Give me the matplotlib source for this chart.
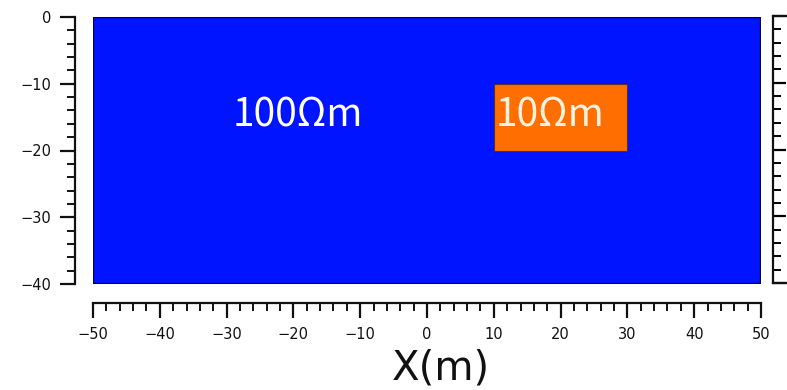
import matplotlib
matplotlib.use("Agg")
import matplotlib.pyplot as plt
from matplotlib.patches import Rectangle
from matplotlib.ticker import MultipleLocator

# model extent (m) and resistivity values
x_range = [-50, 50]
depth_range = [-40, 0]
block_x = [10, 30]
block_depth = [-20, -10]
background_rho = 100
block_rho = 10
x_ticks = [-50, -40, -30, -20, -10, 0, 10, 20, 30, 40, 50]
y_ticks = [0, -10, -20, -30, -40]

label_font = ["Noto Sans CJK JP", "DejaVu Sans"]

fig = plt.figure(figsize=(7.87, 3.90), dpi=100)
W, H = 787, 390
ax = fig.add_axes([93 / W, 1 - 284 / H, (761 - 93) / W, (284 - 17) / H])

# background half-space
ax.add_patch(Rectangle((x_range[0], depth_range[0]), x_range[1] - x_range[0],
                       depth_range[1] - depth_range[0],
                       facecolor="#0014ff", edgecolor="#000033", lw=1.6, zorder=1))
# conductive block
ax.add_patch(Rectangle((block_x[0], block_depth[0]), block_x[1] - block_x[0],
                       block_depth[1] - block_depth[0],
                       facecolor="#ff6e00", edgecolor="#5a3020", lw=0.8, zorder=2))

ax.text(-19.4, -14.8, f"{background_rho}Ωm", color="white", fontsize=28,
        family=label_font, ha="center", va="center", zorder=3)
ax.text(18.4, -14.8, f"{block_rho}Ωm", color="#fff2e0", fontsize=28,
        family=label_font, ha="center", va="center", zorder=3)

ax.set_xlim(x_range)
ax.set_ylim(depth_range)
ax.set_xticks(x_ticks)
ax.set_yticks(y_ticks)
ax.xaxis.set_minor_locator(MultipleLocator(2))
ax.yaxis.set_minor_locator(MultipleLocator(2))

for s in ["top", "right"]:
    ax.spines[s].set_visible(False)
ax.spines["left"].set_position(("outward", 13))
ax.spines["bottom"].set_position(("outward", 14))
for s in ["left", "bottom"]:
    ax.spines[s].set_linewidth(1.6)
    ax.spines[s].set_color("#111111")

ax.tick_params(which="major", direction="out", length=11, width=1.6,
               labelsize=10.5, pad=6, colors="#111111")
ax.tick_params(which="minor", direction="out", length=6, width=1.4, colors="#111111")
ax.set_xlabel("X(m)", fontsize=29, color="#111111")
ax.xaxis.set_label_coords(0.521, -0.24)

# frame of the neighbouring panel, cut off at the right edge
ax2 = fig.add_axes([773 / W, 1 - 283 / H, 0.2, (283 - 16) / H])
ax2.set_ylim(depth_range)
ax2.set_yticks(y_ticks)
ax2.yaxis.set_minor_locator(MultipleLocator(2))
ax2.set_xticks([])
ax2.tick_params(axis="y", which="major", direction="in", length=9, width=1.6, labelleft=False)
ax2.tick_params(axis="y", which="minor", direction="in", length=6, width=1.4)
for s in ax2.spines.values():
    s.set_linewidth(1.6)
    s.set_color("#111111")

fig.savefig("out.png", dpi=100)
